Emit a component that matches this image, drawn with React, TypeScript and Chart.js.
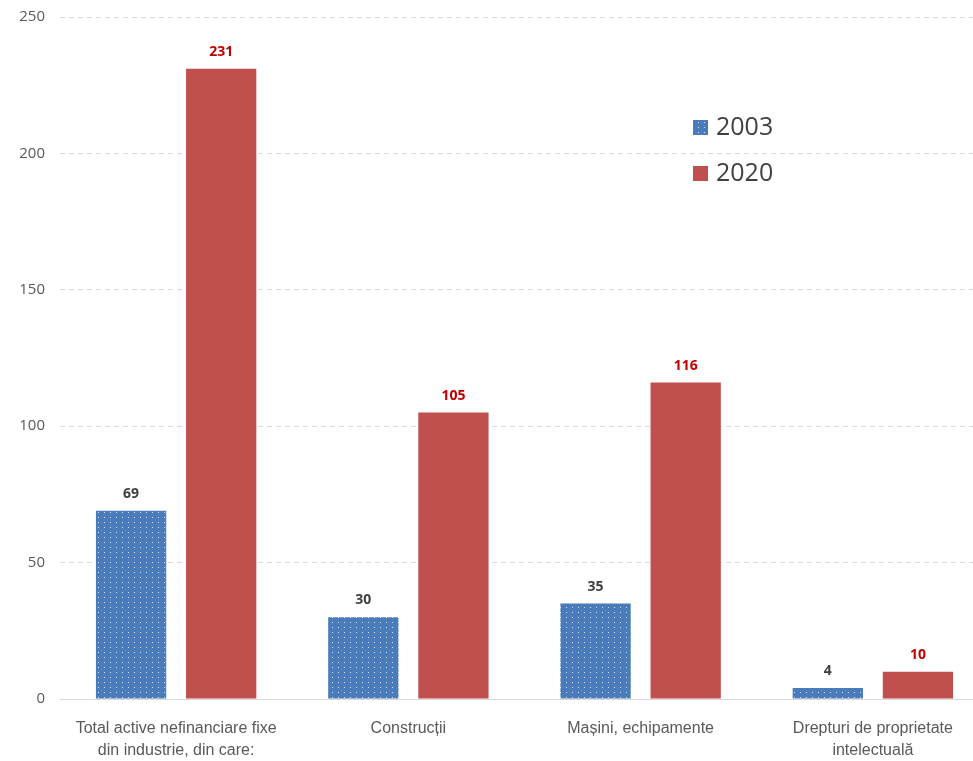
import React, { useEffect, useRef } from "react";
import { Chart, registerables } from "chart.js";

Chart.register(...registerables);

const categories: string[][] = [
  ["Total active nefinanciare fixe", "din industrie, din care:"],
  ["Construcții"],
  ["Mașini, echipamente"],
  ["Drepturi de proprietate", "intelectuală"],
];
const series2003: number[] = [69, 30, 35, 4];
const series2020: number[] = [231, 105, 116, 10];
const seriesNames: string[] = ["2003", "2020"];
const yTicks = { min: 0, max: 250, step: 50 };

const BLUE = "#4A7BBB";
const RED = "#C0504D";

function makePattern(): CanvasPattern | string {
  const c = document.createElement("canvas");
  c.width = 6;
  c.height = 5;
  const ctx = c.getContext("2d");
  if (!ctx) return BLUE;
  ctx.fillStyle = BLUE;
  ctx.fillRect(0, 0, 6, 5);
  ctx.fillStyle = "rgba(255,255,255,0.75)";
  ctx.fillRect(2, 2, 1, 1);
  const p = ctx.createPattern(c, "repeat");
  return p || BLUE;
}

export default function App() {
  const ref = useRef<HTMLCanvasElement | null>(null);

  useEffect(() => {
    if (!ref.current) return;
    const pattern = makePattern();

    const labelPlugin = {
      id: "valueLabels",
      afterDatasetsDraw(chart: any) {
        const ctx = chart.ctx;
        ctx.save();
        ctx.font = "bold 14px 'Open Sans', sans-serif";
        ctx.textAlign = "center";
        ctx.textBaseline = "bottom";
        chart.data.datasets.forEach((ds: any, i: number) => {
          const meta = chart.getDatasetMeta(i);
          ctx.fillStyle = i === 0 ? "#404040" : "#C00000";
          meta.data.forEach((bar: any, j: number) => {
            ctx.fillText(String(ds.data[j]), bar.x, bar.y - 10);
          });
        });
        ctx.restore();
      },
    };

    const legendPlugin = {
      id: "customLegend",
      afterDraw(chart: any) {
        const ctx = chart.ctx;
        ctx.save();
        const items = [
          { label: seriesNames[0], fill: pattern, y: 127 },
          { label: seriesNames[1], fill: RED, y: 173 },
        ];
        items.forEach((it) => {
          ctx.fillStyle = it.fill;
          ctx.fillRect(693, it.y - 7, 15, 15);
          ctx.fillStyle = "#404040";
          ctx.font = "25px 'Open Sans', sans-serif";
          ctx.textAlign = "left";
          ctx.textBaseline = "middle";
          ctx.fillText(it.label, 716, it.y + 1);
        });
        ctx.restore();
      },
    };

    const chart = new Chart(ref.current, {
      type: "bar",
      data: {
        labels: categories,
        datasets: [
          {
            label: seriesNames[0],
            data: series2003,
            backgroundColor: pattern as any,
            borderWidth: 0,
            categoryPercentage: 0.776,
            barPercentage: 0.78,
          },
          {
            label: seriesNames[1],
            data: series2020,
            backgroundColor: RED,
            borderWidth: 0,
            categoryPercentage: 0.776,
            barPercentage: 0.78,
          },
        ],
      },
      options: {
        animation: false,
        responsive: false,
        maintainAspectRatio: false,
        layout: { padding: { top: 17, right: 0, left: 0, bottom: 0 } },
        plugins: {
          legend: { display: false },
          tooltip: { enabled: false },
        },
        scales: {
          x: {
            grid: { display: false },
            border: { display: true, color: "#D9D9D9", width: 1 },
            ticks: {
              color: "#595959",
              font: {
                family: "'Liberation Sans Narrow', 'Liberation Sans', sans-serif",
                size: 16,
                lineHeight: 1.35,
              },
              padding: 11,
              maxRotation: 0,
              autoSkip: false,
            },
            afterFit: (s: any) => {
              s.height = 62;
              s.paddingLeft = 0;
              s.paddingRight = 0;
            },
          },
          y: {
            min: yTicks.min,
            max: yTicks.max,
            ticks: {
              stepSize: yTicks.step,
              color: "#595959",
              font: { family: "'Open Sans', sans-serif", size: 15 },
              padding: 15,
            },
            grid: {
              color: "#D9D9D9",
              drawTicks: false,
              lineWidth: 1,
            },
            border: { display: false, dash: [5, 4] },
            afterFit: (s: any) => {
              s.width = 60;
              s.paddingTop = 0;
              s.paddingBottom = 0;
            },
          },
        },
      },
      plugins: [labelPlugin, legendPlugin],
    });

    return () => chart.destroy();
  }, []);

  return (
    <div
      style={{
        position: "absolute",
        left: 0,
        top: 0,
        width: 973,
        height: 761,
        overflow: "hidden",
        background: "#fff",
      }}
    >
      <canvas ref={ref} width={989} height={761} style={{ display: "block" }} />
    </div>
  );
}
